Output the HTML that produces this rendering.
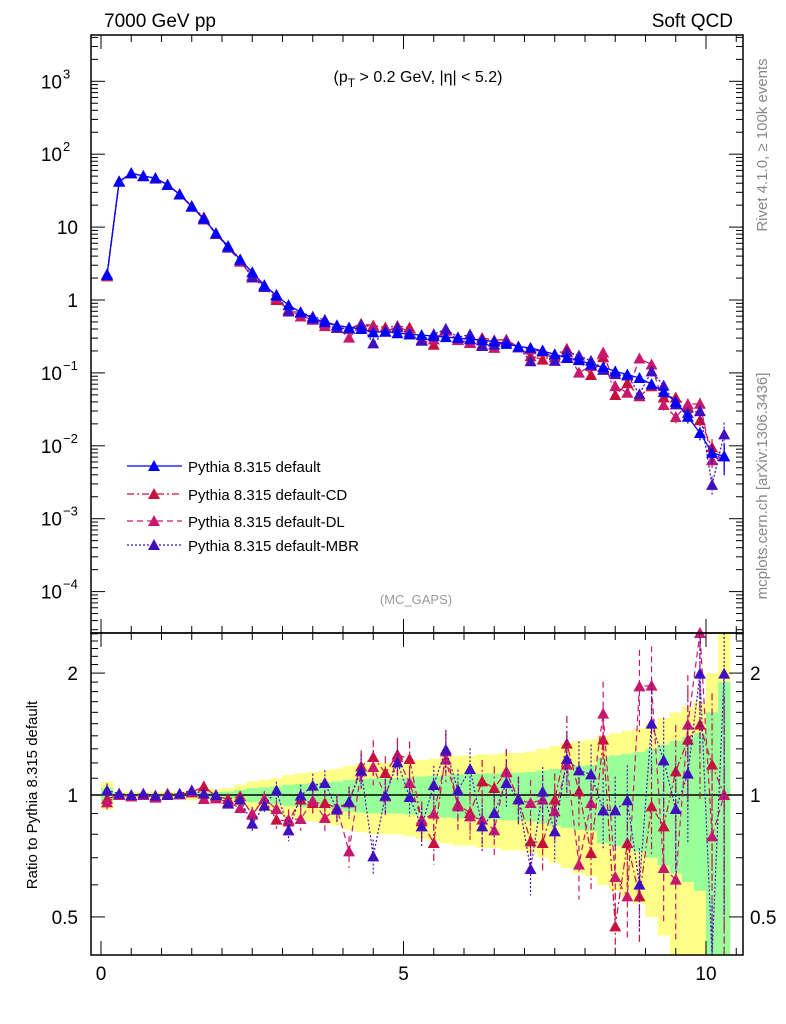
<!DOCTYPE html>
<html><head><meta charset="utf-8"><style>
body{margin:0;background:#fff;}
svg{display:block;font-family:"Liberation Sans",sans-serif;}
</style></head><body>
<svg id="c" width="786" height="1024" viewBox="0 0 786 1024" xmlns="http://www.w3.org/2000/svg">
<text x="104" y="27" font-size="19">7000 GeV pp</text>
<text x="733" y="27" font-size="19" text-anchor="end">Soft QCD</text>
<text x="418" y="82" font-size="16" text-anchor="middle">(p<tspan font-size="12" dy="5">T</tspan><tspan dy="-5"> &gt; 0.2 GeV, |η| &lt; 5.2)</tspan></text>
<text x="416" y="604" font-size="13" fill="#999" text-anchor="middle">(MC_GAPS)</text>
<text transform="translate(767,145) rotate(-90)" font-size="15" fill="#888" text-anchor="middle">Rivet 4.1.0, ≥ 100k events</text>
<text transform="translate(767,486) rotate(-90)" font-size="15" fill="#888" text-anchor="middle">mcplots.cern.ch [arXiv:1306.3436]</text>
<text transform="translate(37,795) rotate(-90)" font-size="15" text-anchor="middle">Ratio to Pythia 8.315 default</text>
<g id="bands"></g><g id="ticks"></g><g id="marks"></g><g id="legend"></g>
<rect x="91" y="35" width="652" height="598" fill="none" stroke="#000" stroke-width="1.5"/>
<rect x="91" y="633" width="652" height="322" fill="none" stroke="#000" stroke-width="1.5"/>
</svg>
<script>
const xs=[];for(let i=0;i<52;i++)xs.push(+(0.1+0.2*i).toFixed(1));
const defaultVals=[2.2,42,55,50,47,38,28,19,13,8.2,5.5,3.6,2.4,1.6,1.15,0.85,0.68,0.56,0.5,0.45,0.42,0.4,0.36,0.37,0.35,0.34,0.33,0.32,0.31,0.3,0.29,0.28,0.27,0.25,0.23,0.22,0.2,0.18,0.16,0.15,0.13,0.12,0.105,0.095,0.085,0.07,0.055,0.04,0.025,0.015,0.008,0.0072];
const zMBR=[452,462,466,462,468,466,462,452,462,466,492,480,552,498,452,572,468,438,430,510,486,392,650,468,368,472,560,436,330,452,388,560,520,430,478,688,456,575,358,392,404,512,512,482,735,252,362,508,402,102,1000,102];
const zCD=[478,466,470,466,472,462,464,458,440,470,478,470,525,478,540,545,480,490,490,505,488,380,352,400,345,358,545,610,335,495,520,425,445,395,478,605,610,480,312,455,640,300,860,610,770,500,560,395,300,255,375,466];
const zDL=[488,466,470,466,474,466,464,458,478,476,488,505,522,478,508,540,538,483,535,505,635,395,382,470,352,430,540,522,360,500,530,540,572,398,480,490,480,515,375,675,490,222,712,770,140,138,685,720,255,-20,590,466];
const errY=[0.08,0.02,0.02,0.02,0.02,0.02,0.02,0.03,0.03,0.035,0.04,0.06,0.08,0.09,0.1,0.12,0.13,0.14,0.15,0.16,0.18,0.19,0.2,0.2,0.2,0.21,0.22,0.23,0.24,0.25,0.25,0.26,0.26,0.27,0.27,0.28,0.3,0.32,0.34,0.36,0.37,0.4,0.42,0.44,0.46,0.5,0.55,0.6,0.65,0.7,1.0,1.5];
function toR(z){return Math.pow(10,(466-z)/1215);}
const rMBR=zMBR.map(toR),rCD=zCD.map(toR),rDL=zDL.map(toR);
const NS="http://www.w3.org/2000/svg";
const X=v=>101+60.5*v, Y=v=>300-72.9*Math.log10(v), R=r=>795-405*Math.log10(r);
function mk(p,t,a){const e=document.createElementNS(NS,t);for(const k in a)e.setAttribute(k,a[k]);p.appendChild(e);return e;}
const cl=v=>Math.max(633,Math.min(955,v)), cm=v=>Math.max(35,Math.min(633,v));
const B=document.getElementById('bands'),T=document.getElementById('ticks'),M=document.getElementById('marks'),L=document.getElementById('legend');
xs.forEach((x,i)=>{const e=errY[i];
 let r=mk(B,'rect',{x:X(x-0.1),width:12.2,y:cl(R(1+e)),height:cl(R(Math.max(1-e,0.01)))-cl(R(1+e)),fill:'#ffff88'});
 
 const g=e*(i>40?0.6:0.5);
 r=mk(B,'rect',{x:X(x-0.1),width:12.2,y:cl(R(1+g)),height:cl(R(Math.max(1-g,0.01)))-cl(R(1+g)),fill:'#99ff99'});
 });
let ln=mk(B,'line',{x1:91,x2:743,y1:795,y2:795,stroke:'#000','stroke-width':1.5});

function tk(x1,y1,x2,y2){const t=mk(T,'line',{x1,y1,x2,y2,stroke:'#000','stroke-width':1});}
for(let d=-5;d<=3;d++)for(let m=1;m<10;m++){const y=Y(m*Math.pow(10,d));if(y<35||y>633)continue;const l=m==1?14:7;tk(91,y,91+l,y);tk(743,y,743-l,y);}
const ylab=[[3,'10','3'],[2,'10','2'],[1,'10',''],[0,'1',''],[-1,'10','−1'],[-2,'10','−2'],[-3,'10','−3'],[-4,'10','−4']];
ylab.forEach(a=>{const t=mk(T,'text',{x:a[2]?62:78,y:Y(Math.pow(10,a[0]))+7,'font-size':19,'text-anchor':'end'});t.textContent=a[1];
 
 if(a[2]){const s=mk(T,'text',{x:63,y:Y(Math.pow(10,a[0]))-3,'font-size':13});s.textContent=a[2];}});
for(let r=0.4;r<2.55;r+=0.1){const y=R(r);if(y<633||y>955)continue;const maj=[0.5,1,2].some(v=>Math.abs(v-r)<1e-6);const l=maj?14:7;tk(91,y,91+l,y);tk(743,y,743-l,y);}
[[2,'2'],[1,'1'],[0.5,'0.5']].forEach(a=>{let t=mk(T,'text',{x:78,y:R(a[0])+7,'font-size':19,'text-anchor':'end'});t.textContent=a[1];
 t=mk(T,'text',{x:750,y:R(a[0])+7,'font-size':19});t.textContent=a[1];});
for(let i=0;i<=21;i++){const v=i*0.5,x=X(v);const l=(i%10==0)?14:7;tk(x,955,x,955-l);tk(x,633,x,633-l);tk(x,35,x,35+l);tk(x,633,x,633+l);}
[0,5,10].forEach(v=>{const t=mk(T,'text',{x:X(v),y:980,'font-size':19,'text-anchor':'middle'});t.textContent=v;});
const series=[
 {name:'Pythia 8.315 default',key:'default',c:'#0000ff',dash:'',r:null},
 {name:'Pythia 8.315 default-CD',key:'cd',c:'#c8103c',dash:'7,3,2,3',r:rCD},
 {name:'Pythia 8.315 default-DL',key:'dl',c:'#c8186e',dash:'6,4',r:rDL},
 {name:'Pythia 8.315 default-MBR',key:'mbr',c:'#4010c0',dash:'2,2',r:rMBR}];
function tri(p,x,y,c,nm){const t=mk(p,'path',{d:`M${x-6},${y+5}L${x+6},${y+5}L${x},${y-6}Z`,fill:c});}
[1,2,3,0].forEach(si=>{const s=series[si];
 const vals=defaultVals.map((v,i)=>s.r?v*s.r[i]:v);
 let p=mk(M,'polyline',{points:xs.map((x,i)=>X(x)+','+cm(Y(vals[i]))).join(' '),fill:'none',stroke:s.c,'stroke-width':1.3,'stroke-dasharray':s.dash});
 
 xs.forEach((x,i)=>{const v=vals[i],e=errY[i]*0.3;const lo=v*(1-e)>0?cm(Y(v*(1-e))):633;
  const b=mk(M,'line',{x1:X(x),x2:X(x),y1:cm(Y(v*(1+e))),y2:lo,stroke:s.c,'stroke-width':1.2,'stroke-dasharray':s.dash});
  const y=Y(v);if(y>=35&&y<=633)tri(M,X(x),y,s.c,'point-'+s.key);});
 if(s.r){
  p=mk(M,'polyline',{points:xs.map((x,i)=>X(x)+','+cl(R(s.r[i]))).join(' '),fill:'none',stroke:s.c,'stroke-width':1.2,'stroke-dasharray':s.dash});
  
  xs.forEach((x,i)=>{const r=s.r[i],e=errY[i]*0.5;const lo=r*(1-e)>0?cl(R(r*(1-e))):955;
   const b=mk(M,'line',{x1:X(x),x2:X(x),y1:cl(R(r*(1+e))),y2:lo,stroke:s.c,'stroke-width':1.2,'stroke-dasharray':s.dash});
   const y=R(r);if(y>=633&&y<=955)tri(M,X(x),y,s.c,'ratio-point-'+s.key);});
 }
});
const ly=[466,494,521,545];
series.forEach((s,i)=>{const g=mk(L,'g',{});
 const l=mk(g,'line',{x1:127,x2:182,y1:ly[i],y2:ly[i],stroke:s.c,'stroke-width':1.3,'stroke-dasharray':s.dash});
 tri(g,154,ly[i],s.c,'legend-marker');
 const t=mk(g,'text',{x:188,y:ly[i]+6,'font-size':15});t.textContent=s.name;});
</script>
</body></html>
